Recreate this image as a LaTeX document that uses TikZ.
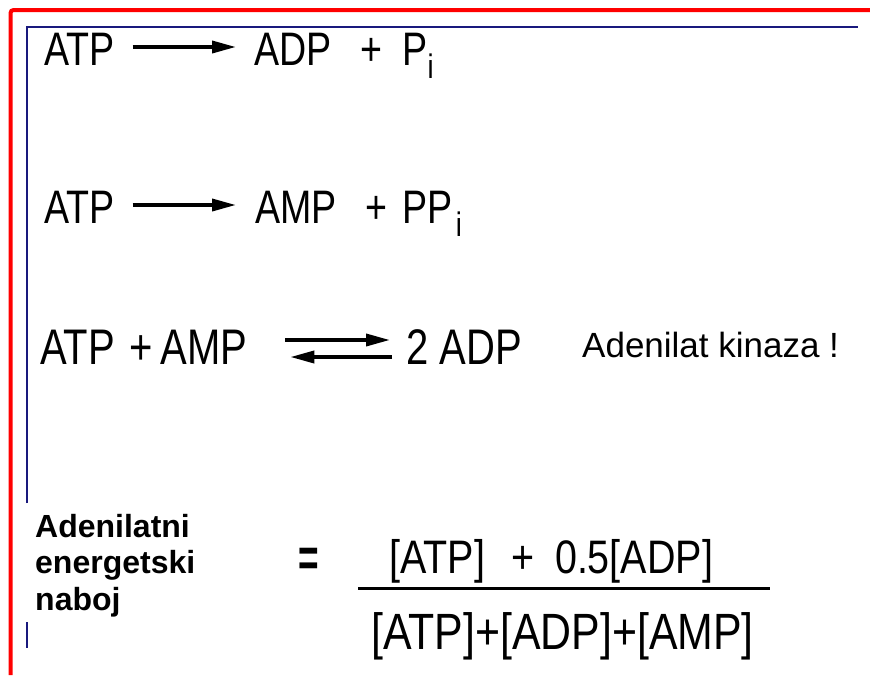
\documentclass[tikz,border=0pt]{standalone}
\usepackage{fontspec}
\usepackage{graphicx}
\setmainfont{Liberation Sans}
\newfontfamily\narrowf[FakeStretch=0.8]{Liberation Sans}
\newfontfamily\fracf[FakeStretch=0.84]{Liberation Sans}
\usetikzlibrary{arrows.meta}
\definecolor{navyline}{RGB}{25,25,125}
\newcommand{\subi}{\raisebox{-13pt}{\fontsize{34}{34}\selectfont i}}
\begin{document}
\begin{tikzpicture}[x=1pt,y=-1pt,
  eq/.style={inner sep=0pt,anchor=base west,font=\narrowf\fontsize{47}{50}\selectfont},
  eqbig/.style={inner sep=0pt,anchor=base west,font=\narrowf\fontsize{50}{52}\selectfont},
  lbl/.style={inner sep=0pt,anchor=base west,font=\fontsize{35}{38}\selectfont},
  bl/.style={inner sep=0pt,anchor=base west,font=\bfseries\fontsize{32}{36.5}\selectfont,align=left},
  frac/.style={inner sep=0pt,anchor=base west,font=\fracf\fontsize{47}{50}\selectfont},
  rxn/.style={line width=3.6pt,-{Triangle[length=24pt,width=12pt]}}]
\useasboundingbox (0,0) rectangle (870,675);
% frames
\draw[red,line width=4pt,rounded corners=3pt] (10.5,675) -- (10.5,10) -- (870,10);
\draw[navyline,line width=1.6pt] (27,503) -- (27,27) -- (858,27);
\draw[navyline,line width=1.6pt] (27,622) -- (27,648);
% row 1
\node[eq] (a1) at (44,65) {ATP};
\node[eq] (b1) at (254,65) {ADP\hspace{29pt}+\hspace{20pt}P\subi};
\draw[rxn] ([xshift=18pt,yshift=18pt]a1.base east) -- ([xshift=-18pt,yshift=18pt]b1.base west);
% row 2
\node[eq] (a2) at (44,223) {ATP};
\node[eq] (b2) at (255,223) {AMP\hspace{29pt}+\hspace{15pt}PP\hspace{3pt}\subi};
\draw[rxn] ([xshift=18pt,yshift=18pt]a2.base east) -- ([xshift=-19pt,yshift=18pt]b2.base west);
% row 3
\node[eqbig] (a3) at (40,364) {ATP\hspace{14pt}+\hspace{8pt}AMP};
\node[eqbig] (b3) at (406,364) {2 ADP};
\coordinate (t1) at ([xshift=38pt,yshift=24pt]a3.base east);
\coordinate (t2) at ([xshift=-16pt,yshift=24pt]b3.base west);
\coordinate (u1) at ([xshift=43pt,yshift=7pt]a3.base east);
\coordinate (u2) at ([xshift=-14pt,yshift=7pt]b3.base west);
\draw[rxn] (t1) -- (t2);
\draw[rxn] (u2) -- (u1);
\node[lbl] (k) at (582,357) {Adenilat kinaza !};
% energy charge
\node[bl] (ec) at (35,610) {Adenilatni\\energetski\\naboj};
\node[inner sep=0pt] (eqs) at (309,562) {\scalebox{1.1}[1.7]{\bfseries\fontsize{32}{32}\selectfont =}};
\node[frac] (num) at (389,573) {[ATP]\hspace{26pt}+\hspace{21pt}0.5[ADP]};
\node[frac,font=\fracf\fontsize{51}{53}\selectfont] (den) at (371,649) {[ATP]+[ADP]+[AMP]};
\coordinate (f1) at (358,588);
\coordinate (f2) at (770,588);
\draw[line width=3pt] (f1) -- (f2);
\end{tikzpicture}
\end{document}
